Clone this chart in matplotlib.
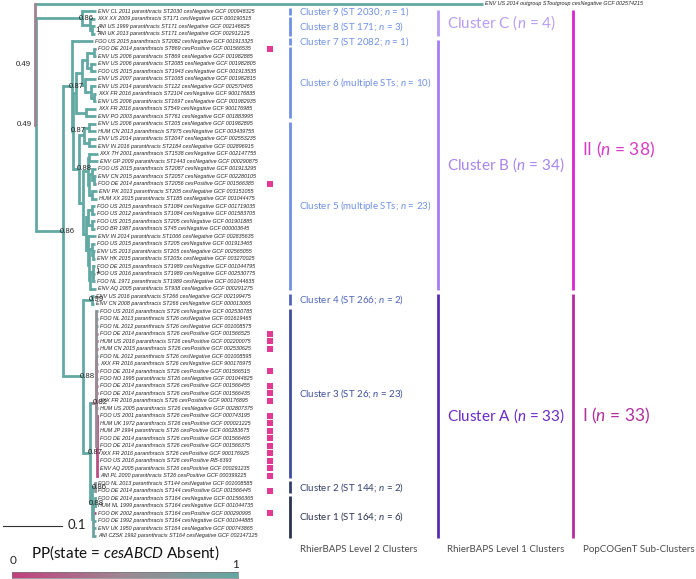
import numpy as np
import matplotlib
matplotlib.use("Agg")
import matplotlib.pyplot as plt
import matplotlib.transforms as mtransforms
from matplotlib.colors import LinearSegmentedColormap

plt.rcParams["font.family"] = ["Lato", "DejaVu Sans"]
plt.rcParams["mathtext.fontset"] = "custom"
plt.rcParams["mathtext.rm"] = "Lato"
plt.rcParams["mathtext.it"] = "Lato:italic"

# tip labels, top to bottom (index 0 = outgroup)
LEAVES = [
    "ENV US 2014 outgroup SToutgroup cesNegative GCF 002574215",
    "ENV CL 2011 paranthracis ST2030 cesNegative GCF 000948325",
    "XXX XX 2009 paranthracis ST171 cesNegative GCF 000190515",
    "ANI US 1999 paranthracis ST171 cesNegative GCF 002146825",
    "ANI UK 2013 paranthracis ST171 cesNegative GCF 002912125",
    "FOO US 2015 paranthracis ST2082 cesNegative GCF 001913325",
    "FOO DE 2014 paranthracis ST869 cesPositive GCF 001566535",
    "ENV US 2006 paranthracis ST869 cesNegative GCF 001982885",
    "ENV US 2006 paranthracis ST2085 cesNegative GCF 001982805",
    "FOO US 2015 paranthracis ST1943 cesNegative GCF 001913535",
    "ENV US 2007 paranthracis ST1065 cesNegative GCF 001982815",
    "ENV US 2014 paranthracis ST122 cesNegative GCF 002570465",
    "XXX FR 2016 paranthracis ST2104 cesNegative GCF 900176835",
    "ENV US 2006 paranthracis ST1697 cesNegative GCF 001982935",
    "XXX FR 2016 paranthracis ST549 cesNegative GCF 900176985",
    "ENV PO 2003 paranthracis ST761 cesNegative GCF 001883995",
    "ENV US 2006 paranthracis ST205 cesNegative GCF 001982895",
    "HUM CN 2013 paranthracis ST975 cesNegative GCF 003439755",
    "ENV US 2014 paranthracis ST2047 cesNegative GCF 002553235",
    "ENV IN 2016 paranthracis ST2184 cesNegative GCF 002896915",
    "XXX TH 2001 paranthracis ST1538 cesNegative GCF 002147755",
    "ENV GP 2009 paranthracis ST1443 cesNegative GCF 000290875",
    "FOO US 2015 paranthracis ST2087 cesNegative GCF 001913295",
    "ENV CN 2015 paranthracis ST2057 cesNegative GCF 002280105",
    "FOO DE 2014 paranthracis ST2056 cesPositive GCF 001566385",
    "ENV PK 2013 paranthracis ST205 cesNegative GCF 003151055",
    "HUM XX 2015 paranthracis ST185 cesNegative GCF 001044475",
    "FOO US 2015 paranthracis ST1084 cesNegative GCF 001719035",
    "FOO US 2012 paranthracis ST1084 cesNegative GCF 001583705",
    "FOO US 2015 paranthracis ST205 cesNegative GCF 001901885",
    "FOO BR 1987 paranthracis ST45 cesNegative GCF 000003645",
    "ENV IN 2014 paranthracis ST1066 cesNegative GCF 002835635",
    "FOO US 2015 paranthracis ST205 cesNegative GCF 001913465",
    "ENV US 2013 paranthracis ST205 cesNegative GCF 002565055",
    "ENV HK 2015 paranthracis ST205x cesNegative GCF 003270025",
    "FOO DE 2015 paranthracis ST1989 cesNegative GCF 001044795",
    "FOO US 2016 paranthracis ST1989 cesNegative GCF 002530775",
    "FOO NL 1971 paranthracis ST1989 cesNegative GCF 001044635",
    "ENV AQ 2005 paranthracis ST938 cesNegative GCF 000291275",
    "ENV US 2016 paranthracis ST266 cesNegative GCF 002199475",
    "ENV CN 2008 paranthracis ST266 cesNegative GCF 000013065",
    "FOO US 2016 paranthracis ST26 cesNegative GCF 002530785",
    "FOO NL 2013 paranthracis ST26 cesNegative GCF 001619465",
    "FOO NL 2012 paranthracis ST26 cesNegative GCF 001008575",
    "FOO DE 2014 paranthracis ST26 cesPositive GCF 001566525",
    "HUM US 2016 paranthracis ST26 cesPositive GCF 002200075",
    "HUM CN 2015 paranthracis ST26 cesPositive GCF 002530625",
    "FOO NL 2012 paranthracis ST26 cesNegative GCF 001008595",
    "XXX FR 2016 paranthracis ST26 cesNegative GCF 900176975",
    "FOO DE 2014 paranthracis ST26 cesPositive GCF 001566515",
    "FOO NO 1995 paranthracis ST26 cesNegative GCF 001044825",
    "FOO DE 2014 paranthracis ST26 cesPositive GCF 001566455",
    "FOO DE 2014 paranthracis ST26 cesPositive GCF 001566435",
    "XXX FR 2016 paranthracis ST26 cesPositive GCF 900176895",
    "HUM US 2005 paranthracis ST26 cesNegative GCF 002807375",
    "FOO US 2001 paranthracis ST26 cesPositive GCF 000743195",
    "HUM UK 1972 paranthracis ST26 cesPositive GCF 000021225",
    "HUM JP 1994 paranthracis ST26 cesPositive GCF 000283675",
    "FOO DE 2014 paranthracis ST26 cesPositive GCF 001566465",
    "FOO DE 2014 paranthracis ST26 cesPositive GCF 001566375",
    "XXX FR 2016 paranthracis ST26 cesPositive GCF 900176925",
    "FOO US 2016 paranthracis ST26 cesPositive RB-6393",
    "ENV AQ 2005 paranthracis ST26 cesPositive GCF 000291235",
    "ANI PL 2000 paranthracis ST26 cesPositive GCF 000399225",
    "FOO NL 2013 paranthracis ST144 cesNegative GCF 001008585",
    "FOO DE 2014 paranthracis ST144 cesPositive GCF 001566445",
    "FOO DE 2014 paranthracis ST164 cesNegative GCF 001566365",
    "HUM NL 1999 paranthracis ST164 cesNegative GCF 001044735",
    "FOO DK 2002 paranthracis ST164 cesPositive GCF 000290995",
    "FOO DE 1992 paranthracis ST164 cesNegative GCF 001044885",
    "ENV UK 1950 paranthracis ST164 cesNegative GCF 000743865",
    "ANI CZSK 1992 paranthracis ST164 cesNegative GCF 002147125",
]

# newick: tips are LEAVES indices, internal labels "support#PP(absent)"
TREE = (
    "(0:0.759,"
    "((1:0.024,(2:0.008,(3:0.005,4:0.005)1:0.003):0.015)0.86:0.077,"
    "((5:0.036,"
    "(((((6:0.003,7:0.003):0.012,(8:0.008,9:0.008):0.007):0.008,"
    "(10:0.019,(11:0.008,(12:0.003,13:0.003):0.005):0.010):0.005):0.010,"
    "(14:0.017,15:0.017):0.017):0.005,"
    "(((16:0.012,17:0.012):0.008,(18:0.012,19:0.012):0.008):0.008,"
    "(((20:0.015,21:0.015):0.002,((22:0.007,(23:0.004,24:0.004):0.003):0.005,"
    "(25:0.008,26:0.008):0.005):0.003):0.007,"
    "(((27:0.005,28:0.005):0.007,(29:0.005,30:0.005):0.007):0.003,"
    "(31:0.015,((32:0.005,(33:0.003,34:0.003):0.002):0.005,"
    "((35:0.003,(36:0.002,37:0.002):0.001)1:0.004,38:0.010):0.002):0.003):0.002):0.005)"
    ":0.007)0.88:0.010)0.87:0.003)0.87:0.015,"
    "((39:0.004,40:0.004)0.99:0.015,"
    "(((41:0.003,42:0.003,43:0.003,44:0.002,45:0.002,46:0.002,47:0.003,48:0.003,"
    "49:0.002,50:0.003,51:0.002,52:0.002,53:0.002,54:0.003)#0.6:0.001,"
    "(55:0.002,56:0.002,57:0.002,58:0.002,59:0.002,60:0.002,61:0.002,62:0.002,"
    "63:0.002)#0.1:0.002)0.82#0.5:0.010,"
    "((64:0.003,65:0.003)0.86#0.7:0.005,"
    "((66:0.002,67:0.002):0.002,68:0.004,69:0.004,70:0.004,71:0.004)#0.9:0.003)"
    "0.88:0.003)0.87:0.012)0.88:0.034)0.86:0.045)0.49:0.002)0.49#0.45;"
)

# (label, first tip, last tip)
LEVEL2 = [
    ("Cluster 9 (ST 2030; $n$ = 1)", 1, 1),
    ("Cluster 8 (ST 171; $n$ = 3)", 2, 4),
    ("Cluster 7 (ST 2082; $n$ = 1)", 5, 5),
    ("Cluster 6 (multiple STs; $n$ = 10)", 6, 15),
    ("Cluster 5 (multiple STs; $n$ = 23)", 16, 38),
    ("Cluster 4 (ST 266; $n$ = 2)", 39, 40),
    ("Cluster 3 (ST 26; $n$ = 23)", 41, 63),
    ("Cluster 2 (ST 144; $n$ = 2)", 64, 65),
    ("Cluster 1 (ST 164; $n$ = 6)", 66, 71),
]
LEVEL2_COLORS = ["#6f90e4", "#6f90e4", "#6f90e4", "#6f90e4", "#6f90e4",
                 "#4f66b8", "#3e4f9c", "#34406f", "#2a3350"]
LEVEL1 = [
    ("Cluster C ($n$ = 4)", 1, 4),
    ("Cluster B ($n$ = 34)", 5, 38),
    ("Cluster A ($n$ = 33)", 39, 71),
]
LEVEL1_COLORS = ["#b89cf4", "#a47cf6", "#5a2db4"]
LEVEL1_TEXT = ["#b89cf4", "#a784ee", "#6a2bc4"]
POPCOGENT = [
    ("II ($n$ = 38)", 1, 38),
    ("I ($n$ = 33)", 39, 71),
]
POP_COLORS = ["#dc22d2", "#b52ba0"]
POP_TEXT = ["#d63cc6", "#b0309e"]

W, H = 696, 579
PX_PER_UNIT = 590.0   # 0.1 subst./site ~ 59 px
ROOT_PX = 35
Y0_PX, ROW_PX = 4.0, 7.49

cmap = LinearSegmentedColormap.from_list(
    "pp", ["#c3407f", "#9d8893", "#62a9a3"])


def parse_newick(s):
    s = s.strip().rstrip(";")
    pos = 0

    def node():
        nonlocal pos
        n = {"children": [], "name": "", "bl": 0.0}
        if s[pos] == "(":
            pos += 1
            while True:
                n["children"].append(node())
                if s[pos] == ",":
                    pos += 1
                    continue
                pos += 1  # ')'
                break
        start = pos
        while pos < len(s) and s[pos] not in ",():":
            pos += 1
        n["name"] = s[start:pos]
        if pos < len(s) and s[pos] == ":":
            pos += 1
            start = pos
            while pos < len(s) and s[pos] not in ",()":
                pos += 1
            n["bl"] = float(s[start:pos])
        return n

    return node()


def layout(n, x0=0.0):
    n["x"] = x0 + n["bl"]
    if not n["children"]:
        idx = int(n["name"])
        n["y"] = idx
        n["pp"] = 0.0 if "cesPositive" in LEAVES[idx] else 1.0
        n["support"] = ""
        return
    for c in n["children"]:
        layout(c, n["x"])
    n["y"] = (n["children"][0]["y"] + n["children"][-1]["y"]) / 2
    sup, _, pp = n["name"].partition("#")
    n["support"] = sup
    n["pp"] = float(pp) if pp else 1.0


root = parse_newick(TREE)
root["bl"] = 0.0
layout(root)

fig = plt.figure(figsize=(W / 100, H / 100), dpi=100)
ax = fig.add_axes([0, 0, 1, 1])
ax.set_xlim(-ROOT_PX / PX_PER_UNIT, (W - ROOT_PX) / PX_PER_UNIT)
ax.set_ylim((H - Y0_PX) / ROW_PX, -Y0_PX / ROW_PX)
ax.axis("off")
px = 1.0 / PX_PER_UNIT
blend = mtransforms.blended_transform_factory(ax.transAxes, ax.transData)


def draw(n):
    # children first so that ancestors sit on top
    for c in n["children"]:
        draw(c)
    for c in n["children"]:
        ax.plot([n["x"], c["x"]], [c["y"], c["y"]], color=cmap(c["pp"]),
                lw=2.0, solid_capstyle="butt", zorder=2)
    if n["children"]:
        ax.plot([n["x"], n["x"]], [n["children"][0]["y"], n["children"][-1]["y"]],
                color=cmap(n["pp"]), lw=2.0, solid_capstyle="projecting", zorder=2)
        if n["support"]:
            if n["x"] < 0.01:
                ax.text(n["x"] - 4 * px, n["y"], n["support"], ha="right", va="center",
                        fontsize=5.6, family="Liberation Sans", color="#222", zorder=4)
            else:
                ax.text(n["x"] + 5 * px, n["y"], n["support"], ha="center", va="center",
                        fontsize=5.6, family="Liberation Sans", color="#222", zorder=4)
    else:
        ax.text(n["x"] + 2 * px, n["y"], LEAVES[int(n["name"])], ha="left", va="center",
                fontsize=3.9, style="italic", family="Liberation Sans", color="#222")


draw(root)

# cesABCD-positive markers
pos_idx = [i for i, s in enumerate(LEAVES) if "cesPositive" in s]
ax.scatter([270 / W] * len(pos_idx), pos_idx, marker="s", s=20, color="#e23a95",
           transform=blend, linewidths=0, zorder=3)


def brackets(groups, xpx, colors, tcolors, fsize, lw):
    for (lab, a, b), c, tc in zip(groups, colors, tcolors):
        ext = 0.45 if a == b else 0.25
        ax.plot([xpx / W, xpx / W], [a - ext, b + ext], transform=blend, color=c,
                lw=lw, solid_capstyle="butt")
        ax.text((xpx + 9) / W, (a + b) / 2, lab, transform=blend, ha="left",
                va="center", fontsize=fsize, color=tc)


brackets(LEVEL2, 290, LEVEL2_COLORS, LEVEL2_COLORS, 7.0, 2.0)
brackets(LEVEL1, 438, LEVEL1_COLORS, LEVEL1_TEXT, 11.0, 2.0)
brackets(POPCOGENT, 573, POP_COLORS, POP_TEXT, 12.5, 2.0)

for lab, xpx in [("RhierBAPS Level 2 Clusters", 300),
                 ("RhierBAPS Level 1 Clusters", 447),
                 ("PopCOGenT Sub-Clusters", 583)]:
    fig.text(xpx / W, 1 - 549 / H, lab, ha="left", va="center", fontsize=7.0,
             color="#4a4a4a")

# scale bar
ax.plot([3 / W, 62 / W], [(526 - Y0_PX) / ROW_PX] * 2, transform=blend,
        color="#333", lw=0.8)
fig.text(68 / W, 1 - 525 / H, "0.1", ha="left", va="center", fontsize=9.5, color="#222")

# colour bar for PP(state = absent)
cax = fig.add_axes([12 / W, 1 - 578 / H, 226 / W, 6 / H])
cax.imshow(np.linspace(0, 1, 256)[None, :], aspect="auto", cmap=cmap)
cax.set_xticks([])
cax.set_yticks([])
for sp in cax.spines.values():
    sp.set_color("#777")
    sp.set_linewidth(0.5)
fig.text(125 / W, 1 - 553 / H, r"PP(state = $\mathit{cesABCD}$ Absent)", ha="center",
         va="center", fontsize=11, color="#111")
fig.text(13 / W, 1 - 561 / H, "0", ha="center", va="center", fontsize=8.5, color="#222")
fig.text(236 / W, 1 - 564 / H, "1", ha="center", va="center", fontsize=8.5, color="#222")

fig.savefig("out.png", dpi=100)
